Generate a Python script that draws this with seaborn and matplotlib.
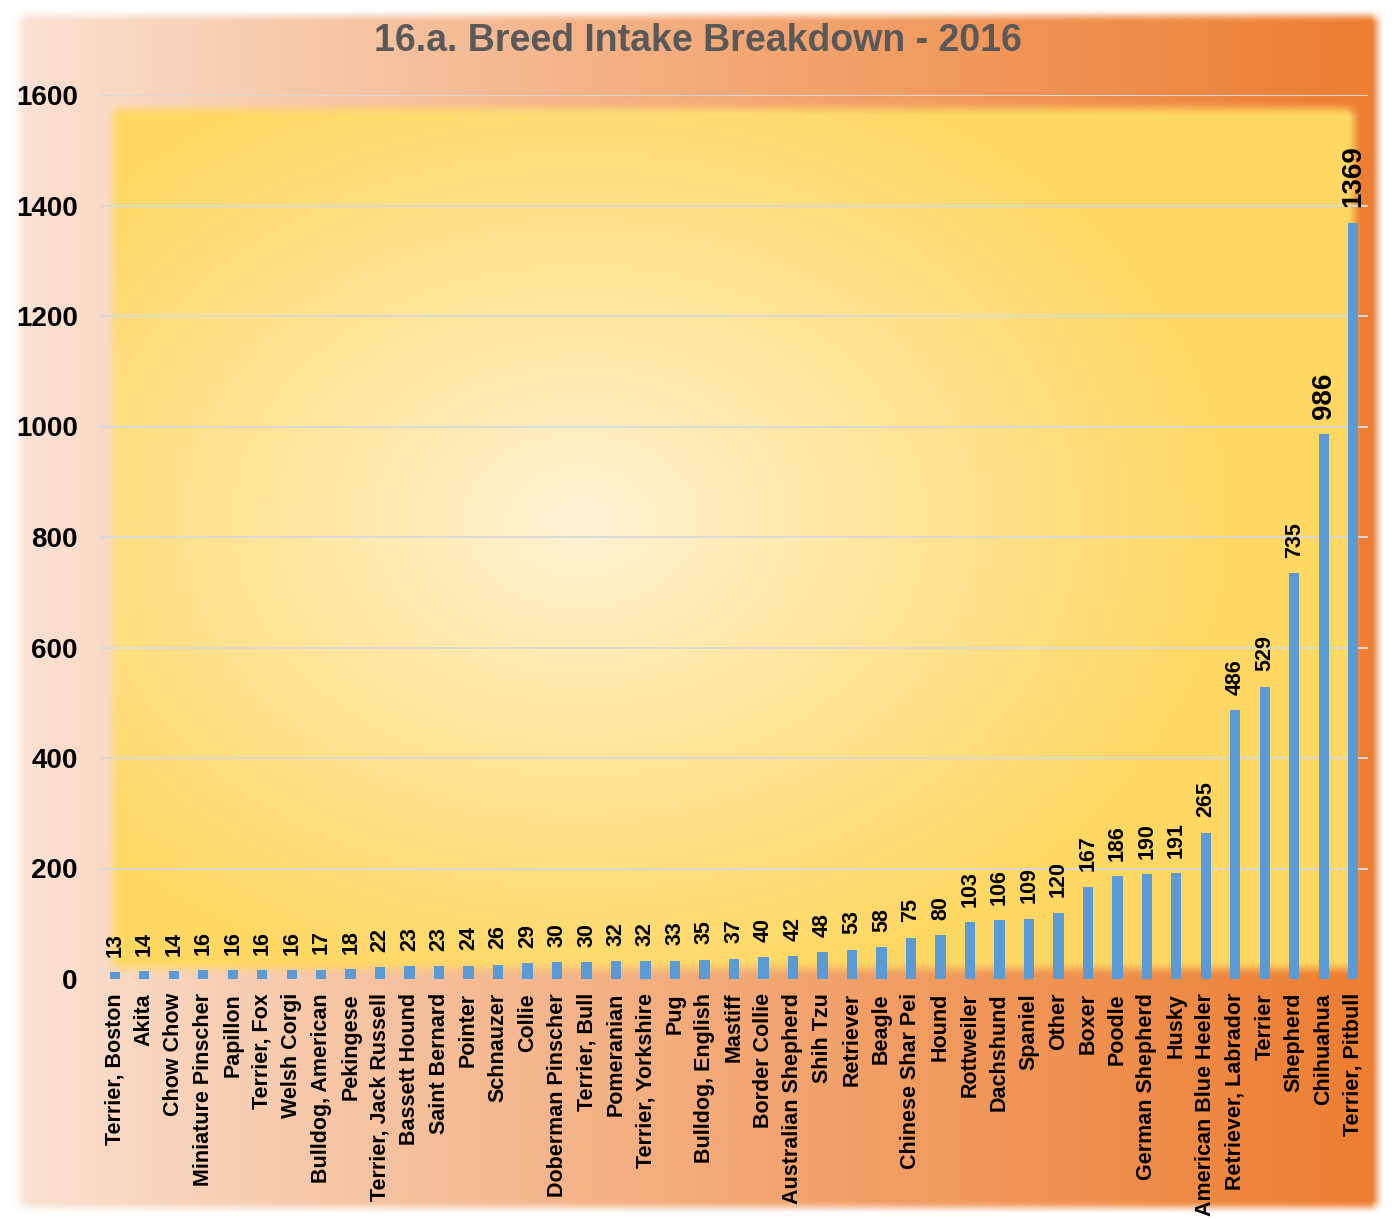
import numpy as np
import matplotlib
matplotlib.use("Agg")
import matplotlib.pyplot as plt
from matplotlib import font_manager
import seaborn as sns

# -------------------------------
# Breed intake 2016
# -------------------------------
breeds = [
    "Terrier, Boston", "Akita", "Chow Chow", "Miniature Pinscher", "Papillon",
    "Terrier, Fox", "Welsh Corgi", "Bulldog, American", "Pekingese",
    "Terrier, Jack Russell", "Bassett Hound", "Saint Bernard", "Pointer",
    "Schnauzer", "Collie", "Doberman Pinscher", "Terrier, Bull", "Pomeranian",
    "Terrier, Yorkshire", "Pug", "Bulldog, English", "Mastiff", "Border Collie",
    "Australian Shepherd", "Shih Tzu", "Retriever", "Beagle", "Chinese Shar Pei",
    "Hound", "Rottweiler", "Dachshund", "Spaniel", "Other", "Boxer", "Poodle",
    "German Shepherd", "Husky", "American Blue Heeler", "Retriever, Labrador",
    "Terrier", "Shepherd", "Chihuahua", "Terrier, Pitbull",
]
counts = [
    13, 14, 14, 16, 16, 16, 16, 17, 18, 22, 23, 23, 24, 26, 29, 30, 30, 32,
    32, 33, 35, 37, 40, 42, 48, 53, 58, 75, 80, 103, 106, 109, 120, 167, 186,
    190, 191, 265, 486, 529, 735, 986, 1369,
]
y_ticks = list(range(0, 1601, 200))

TITLE = "16.a. Breed Intake Breakdown - 2016"
BAR_COLOR = "#5B9BD5"

sns.set_theme(style="white")
plt.rcParams['font.family'] = ['Liberation Sans', 'DejaVu Sans']

W, H = 1392, 1219
fig = plt.figure(figsize=(W / 100, H / 100), dpi=100)
fig.patch.set_facecolor("white")

# -------------------------------
# Background: orange panel + yellow radial plot area (pixel image)
# -------------------------------
yy, xx = np.mgrid[0:H, 0:W].astype(float)


def soft_box(x0, x1, y0, y1, soft):
    mx = np.clip((xx - x0) / soft, 0, 1) * np.clip((x1 - xx) / soft, 0, 1)
    my = np.clip((yy - y0) / soft, 0, 1) * np.clip((y1 - yy) / soft, 0, 1)
    m = mx * my
    return m * m * (3 - 2 * m)


def hexrgb(h):
    h = h.lstrip("#")
    return np.array([int(h[i:i + 2], 16) for i in (0, 2, 4)]) / 255.0


img = np.ones((H, W, 3))

# outer panel, horizontal gradient light peach -> orange
t = np.clip((xx - 12) / (1382 - 12), 0, 1) ** 0.85
c0, c1 = hexrgb("#FBE4D6"), hexrgb("#ED7D31")
panel = c0 * (1 - t[..., None]) + c1 * t[..., None]
m_outer = soft_box(12, 1384, 8, 1214, 14)[..., None]
img = img * (1 - m_outer) + panel * m_outer

# inner plot area, radial gradient cream -> gold
dx = (xx - 580) / 650
dy = (yy - 520) / 480
r = np.clip(np.sqrt(dx ** 2 + dy ** 2), 0, 1) ** 0.9
y0c, y1c = hexrgb("#FFF4D8"), hexrgb("#FFD864")
yellow = y0c * (1 - r[..., None]) + y1c * r[..., None]
m_inner = soft_box(104, 1362, 100, 976, 16)[..., None]
img = img * (1 - m_inner) + yellow * m_inner

bg = fig.add_axes([0, 0, 1, 1])
bg.imshow(img, aspect="auto", extent=(0, W, H, 0), interpolation="bilinear")
bg.set_axis_off()

# -------------------------------
# Main bar chart
# -------------------------------
ax = fig.add_axes([100 / W, 240 / H, 1268 / W, 884 / H])
ax.patch.set_alpha(0)

sns.barplot(x=breeds, y=counts, color=BAR_COLOR, saturation=1, width=0.35,
            linewidth=0, ax=ax)

ax.set_ylim(0, 1600)
ax.set_yticks(y_ticks)
ax.yaxis.grid(True, color="#D9D9D9", linewidth=1.4)
ax.get_ygridlines()[0].set_visible(False)
ax.set_axisbelow(True)
for s in ax.spines.values():
    s.set_visible(False)

ax.set_xlabel("")
ax.set_ylabel("")
ax.tick_params(axis="y", length=0, pad=16, labelsize=20, labelcolor="black")
ax.tick_params(axis="x", length=0, pad=10, labelsize=15.5, labelcolor="black",
               labelrotation=90)
for lab in ax.get_yticklabels() + ax.get_xticklabels():
    lab.set_fontweight("bold")
for lab in ax.get_xticklabels():
    lab.set_va("top")

labels = ax.bar_label(ax.containers[0], padding=11, rotation=90,
                      fontsize=15.5, fontweight="bold", color="black")
for txt in labels[-2:]:
    txt.set_fontsize(20)

# title uses a narrow bold face if one is installed
narrow = None
for f in font_manager.fontManager.ttflist:
    nm = (f.name + " " + f.fname).lower()
    if ("narrow" in nm or "condensed" in nm) and f.weight in ("bold", 700) \
            and ("liberation" in nm or "arial" in nm):
        narrow = f.fname
        break
if narrow:
    fig.text(698 / W, 1 - 41 / H, TITLE, ha="center", va="center",
             fontproperties=font_manager.FontProperties(fname=narrow, size=32),
             color="#595959")
else:
    fig.text(698 / W, 1 - 41 / H, TITLE, ha="center", va="center",
             fontsize=27, fontweight="bold", color="#595959")

fig.savefig("out.png", dpi=100)
